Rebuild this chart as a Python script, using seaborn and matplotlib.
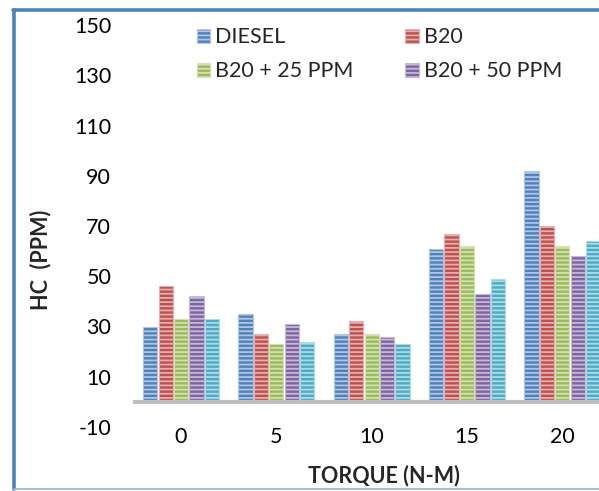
import matplotlib
matplotlib.use("Agg")
import matplotlib.pyplot as plt
import seaborn as sns
import pandas as pd
import numpy as np
from matplotlib.patches import Patch
from matplotlib.lines import Line2D
from matplotlib.colors import to_rgb

# Data: HC emission (ppm) vs torque (N-m) for each fuel blend
torque = ["0", "5", "10", "15", "20"]
fuels = ["DIESEL", "B20", "B20 + 25 PPM", "B20 + 50 PPM", "B20 + 75 PPM"]
diesel = [30, 35, 27, 61, 92]
b20 = [46, 27, 32, 67, 70]
b20_25 = [33, 23, 27, 62, 62]
b20_50 = [42, 31, 26, 43, 58]
b20_75 = [33, 24, 23, 49, 64]
y_ticks = [-10, 10, 30, 50, 70, 90, 110, 130, 150]

colors = ["#4F81BD", "#C0504D", "#9BBB59", "#8064A2", "#4BACC6"]

rows = []
for fuel, vals in zip(fuels, [diesel, b20, b20_25, b20_50, b20_75]):
    for t, v in zip(torque, vals):
        rows.append({"torque": t, "hc": v, "fuel": fuel})
df = pd.DataFrame(rows)

sns.set_theme(style="white")
plt.rcParams["font.family"] = ["Lato", "DejaVu Sans"]
plt.rcParams["hatch.linewidth"] = 1.3


def tint(c, f=0.55):
    r = np.array(to_rgb(c))
    return tuple(r + (1 - r) * f)


W, H = 599, 491
fig = plt.figure(figsize=(W / 100, H / 100), dpi=100)
fig.patch.set_facecolor("white")

ax_left, ax_right = 133.4, 610.0
ax_top, ax_bot = 25.0, 427.0
ax = fig.add_axes([ax_left / W, 1 - ax_bot / H, (ax_right - ax_left) / W, (ax_bot - ax_top) / H])

sns.barplot(data=df, x="torque", y="hc", hue="fuel", hue_order=fuels,
            palette=colors, width=0.81, gap=0.08, ax=ax, legend=False,
            errorbar=None, saturation=1)

# striped fill with a pale outline per series
n_cat = len(torque)
for i, patch in enumerate(ax.patches):
    c = colors[i // n_cat]
    patch.set_edgecolor(tint(c, 0.55))
    patch.set_linewidth(0.8)
    patch.set_hatch("----")

ax.axhline(0, color="#BFBFBF", lw=3.0, zorder=3)
ax.set_xlim(-0.5, 4.5)
ax.set_ylim(-10, 150)
ax.set_yticks(y_ticks)
ax.set_yticklabels([str(v) for v in y_ticks])
for s in ax.spines.values():
    s.set_visible(False)
ax.tick_params(axis="y", length=0, pad=16, labelsize=15.5, labelcolor="black")
ax.tick_params(axis="x", length=0, pad=0, labelsize=15.5, labelcolor="black")
ax.set_xlabel("")
ax.set_ylabel("")

fig.text(384 / W, 1 - 476 / H, "TORQUE (N-M)", ha="center", va="center",
         fontsize=15.5, fontweight="bold")
fig.text(41 / W, 1 - 260 / H, "HC  (PPM)", ha="center", va="center",
         rotation=90, fontsize=15.5, fontweight="bold")

# legend: two columns, first four series
handles = [Patch(facecolor=colors[k], edgecolor=tint(colors[k], 0.55),
                 hatch="----", linewidth=0.8, label=fuels[k]) for k in (0, 2, 1, 3)]
leg = ax.legend(handles=handles, ncol=2, frameon=False, fontsize=15.5,
                loc="upper left", bbox_to_anchor=((197 - ax_left) / (ax_right - ax_left), 0.994),
                handlelength=0.62, handleheight=0.62, handletextpad=0.23,
                columnspacing=2.4, labelspacing=0.64, borderaxespad=0, borderpad=0)

# chart frame
fig.add_artist(Line2D([13.5 / W, 13.5 / W], [1 - 9.5 / H, 1 - 489 / H], color="#4F81BD", lw=2.6))
fig.add_artist(Line2D([12.5 / W, 1.0], [1 - 9.5 / H, 1 - 9.5 / H], color="#4F81BD", lw=2.6))
fig.add_artist(Line2D([13.5 / W, 1.0], [1 - 488.5 / H, 1 - 488.5 / H], color="#95B3D7", lw=1.2))

fig.savefig("out.png", dpi=100)
